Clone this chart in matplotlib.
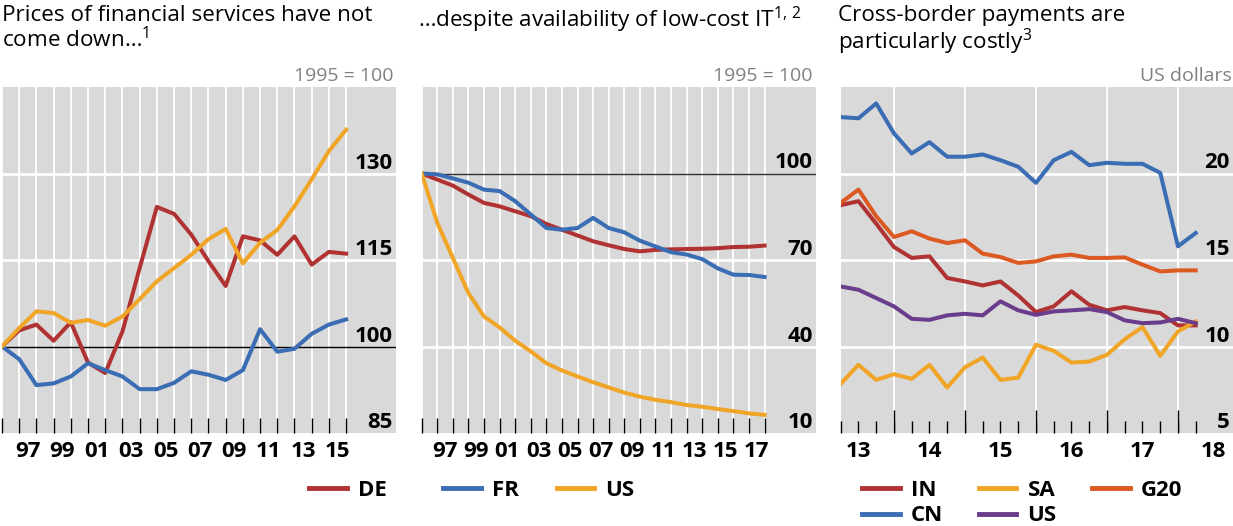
import numpy as np
import matplotlib
matplotlib.use("Agg")
import matplotlib.pyplot as plt
from matplotlib import transforms

plt.rcParams["font.family"] = ["Open Sans", "DejaVu Sans"]
plt.rcParams["mathtext.fontset"] = "custom"
plt.rcParams["mathtext.rm"] = "Open Sans"

# Panel 1: prices of financial services, 1995 = 100
years1 = list(range(1995, 2016))
de1 = [100, 102.8, 103.8, 101.0, 104.2, 97.2, 95.4, 102.6, 113.6, 124.2, 123.0,
       119.4, 114.8, 110.5, 119.1, 118.4, 115.9, 119.1, 114.2, 116.4, 116.1]
fr1 = [100, 97.8, 93.3, 93.6, 94.8, 97.1, 95.9, 94.8, 92.6, 92.6, 93.7,
       95.7, 95.1, 94.2, 95.9, 103.0, 99.1, 99.6, 102.2, 103.8, 104.7]
us1 = [100, 103.2, 106.1, 105.8, 104.1, 104.6, 103.6, 105.2, 108.2, 111.3, 113.6,
       115.9, 118.6, 120.4, 114.4, 118.0, 120.2, 124.3, 129.0, 133.9, 137.6]
labels1 = ["97", "99", "01", "03", "05", "07", "09", "11", "13", "15"]

# Panel 2: price of IT, 1995 = 100
years2 = list(range(1995, 2018))
de2 = [100, 97.9, 95.8, 92.7, 89.8, 88.6, 86.9, 85.2, 82.5, 80.5, 78.5, 76.5,
       75.1, 73.8, 73.0, 73.5, 73.7, 73.8, 73.9, 74.1, 74.5, 74.6, 75.0]
fr2 = [100, 99.7, 98.3, 96.8, 94.4, 93.9, 90.4, 85.8, 81.1, 80.5, 81.1, 84.6,
       81.1, 79.6, 76.7, 74.7, 72.7, 71.9, 70.3, 67.1, 64.9, 64.8, 64.1]
us2 = [100, 82.9, 70.7, 58.5, 50.4, 46.6, 42.0, 38.3, 34.2, 31.7, 29.6, 27.6,
       25.8, 24.0, 22.6, 21.5, 20.7, 19.7, 19.1, 18.3, 17.6, 16.8, 16.3]
labels2 = ["97", "99", "01", "03", "05", "07", "09", "11", "13", "15", "17"]

# Panel 3: cost of cross-border payments, US dollars (quarterly)
in3 = [18.17, 18.40, 17.10, 15.75, 15.12, 15.21, 13.96, 13.76, 13.53, 13.76, 12.95,
       11.99, 12.32, 13.19, 12.41, 12.09, 12.28, 12.09, 11.93, 11.22, 11.22]
sa3 = [7.84, 8.94, 8.07, 8.40, 8.13, 8.94, 7.63, 8.80, 9.36, 8.07, 8.20,
       10.10, 9.75, 9.07, 9.13, 9.52, 10.42, 11.12, 9.46, 10.87, 11.45]
g20 = [18.30, 19.07, 17.53, 16.33, 16.66, 16.24, 15.98, 16.14, 15.37, 15.17, 14.83,
       14.92, 15.21, 15.31, 15.12, 15.12, 15.15, 14.73, 14.34, 14.40, 14.40]
cn3 = [23.26, 23.19, 24.05, 22.32, 21.16, 21.81, 20.97, 20.97, 21.10, 20.77, 20.39,
       19.46, 20.77, 21.25, 20.48, 20.62, 20.56, 20.56, 20.04, 15.79, 16.56]
us3 = [13.47, 13.28, 12.80, 12.32, 11.60, 11.54, 11.80, 11.89, 11.80, 12.61, 12.09,
       11.83, 12.03, 12.09, 12.16, 11.99, 11.51, 11.35, 11.39, 11.60, 11.35]
labels3 = ["13", "14", "15", "16", "17", "18"]

RED = "#b03232"
BLUE = "#3a6db3"
YELLOW = "#f0a526"
ORANGE = "#dc5a22"
PURPLE = "#6a3c8c"
BG = "#d9d9d9"
LW = 2.9

W, H = 1233, 526
fig = plt.figure(figsize=(W / 100, H / 100), dpi=100)


def px_axes(left, right, top=87, bottom=433):
    return fig.add_axes([left / W, 1 - bottom / H, (right - left) / W, (bottom - top) / H])


def inside_labels(ax, values):
    # value labels sit inside the plot, right-aligned, just above the gridline
    trans = transforms.blended_transform_factory(ax.transAxes, ax.transData)
    trans = transforms.offset_copy(trans, fig=fig, x=-3, y=5, units="dots")
    for v in values:
        ax.text(1, v, str(v), transform=trans, ha="right", va="baseline",
                fontsize=16, fontweight="bold")


def style(ax, hgrid):
    ax.set_facecolor(BG)
    for s in ax.spines.values():
        s.set_visible(False)
    ax.set_yticks(hgrid)
    ax.tick_params(axis="y", length=0, labelleft=False)
    ax.grid(axis="y", which="major", color="white", lw=2)
    ax.set_axisbelow(True)


def year_axis(ax, years, labels, xmax):
    ax.set_xlim(years[0], xmax)
    ax.set_xticks(years, minor=True)
    pos = [years[0] + 1.5 + 2 * k for k in range(len(labels))]
    ax.set_xticks(pos)
    ax.set_xticklabels(labels, fontsize=16, fontweight="bold")
    ax.tick_params(axis="x", which="major", length=0, pad=6)
    ax.tick_params(axis="x", which="minor", direction="in", length=11, width=1, color="black")
    ax.grid(axis="x", which="minor", color="white", lw=1.3)


# ---- panel 1
ax1 = px_axes(2, 396)
style(ax1, [115, 130])
ax1.set_ylim(85, 145)
year_axis(ax1, years1, labels1, 1995 + 22.9)
ax1.axhline(100, color="black", lw=1, zorder=2)
l_de, = ax1.plot(years1, de1, color=RED, lw=LW, zorder=3, label="DE")
ax1.plot(years1, fr1, color=BLUE, lw=LW, zorder=3)
ax1.plot(years1, us1, color=YELLOW, lw=LW, zorder=3)
inside_labels(ax1, [85, 100, 115, 130])

# ---- panel 2
ax2 = px_axes(421.7, 816)
style(ax2, [40, 70])
ax2.set_ylim(10, 130)
year_axis(ax2, years2, labels2, 1995 + 25.3)
ax2.axhline(100, color="#333333", lw=1, zorder=2)
ax2.plot(years2, de2, color=RED, lw=LW, zorder=3)
l_fr, = ax2.plot(years2, fr2, color=BLUE, lw=LW, zorder=3, label="FR")
l_us, = ax2.plot(years2, us2, color=YELLOW, lw=LW, zorder=3, label="US")
inside_labels(ax2, [10, 40, 70, 100])

# ---- panel 3
ax3 = px_axes(840.7, 1233)
style(ax3, [10, 15, 20])
ax3.set_ylim(5, 25)
q = np.arange(len(cn3))
ax3.set_xlim(0, 22.1)
ax3.xaxis.remove_overlapping_locs = False
ax3.set_xticks(q, minor=True)
ax3.set_xticks([1, 5, 9, 13, 17, 21])
ax3.set_xticklabels(labels3, fontsize=16, fontweight="bold")
ax3.tick_params(axis="x", which="major", length=0, pad=6)
ax3.tick_params(axis="x", which="minor", direction="in", length=8.5, width=1, color="black")
year_bounds = [3, 7, 11, 15, 19]
ax3.vlines(year_bounds, 0, 1, transform=ax3.get_xaxis_transform(), color="white", lw=1.3, zorder=1)
ax3.vlines(year_bounds, 0, 23 / 346, transform=ax3.get_xaxis_transform(), color="black", lw=1, zorder=2)
l_in, = ax3.plot(q, in3, color=RED, lw=LW, zorder=3, label="IN")
l_sa, = ax3.plot(q, sa3, color=YELLOW, lw=LW, zorder=3, label="SA")
l_g20, = ax3.plot(q, g20, color=ORANGE, lw=LW, zorder=3, label="G20")
l_cn, = ax3.plot(q, cn3, color=BLUE, lw=LW, zorder=3, label="CN")
l_us3, = ax3.plot(q, us3, color=PURPLE, lw=LW, zorder=3, label="US")
inside_labels(ax3, [5, 10, 15, 20])

# ---- titles and units
tkw = dict(fontsize=16.2, va="top", ha="left", linespacing=1.05)
fig.text(2 / W, 1 - 5 / H, "Prices of financial services have not\ncome down…$^{\\mathrm{1}}$", **tkw)
fig.text(418 / W, 1 - 5 / H, "…despite availability of low-cost IT$^{\\mathrm{1,\\,2}}$", **tkw)
fig.text(838 / W, 1 - 5 / H, "Cross-border payments are\nparticularly costly$^{\\mathrm{3}}$", **tkw)
ukw = dict(fontsize=14, color="#808080", ha="right", va="baseline")
fig.text(393 / W, 1 - 81 / H, "1995 = 100", **ukw)
fig.text(812 / W, 1 - 81 / H, "1995 = 100", **ukw)
fig.text(1232 / W, 1 - 81 / H, "US dollars", **ukw)

# ---- legends
lkw = dict(frameon=False, loc="upper left", prop={"size": 16, "weight": "bold"},
           handlelength=1.7, handletextpad=0.5, borderpad=0, borderaxespad=0)
leg1 = fig.legend(handles=[l_de], bbox_to_anchor=(309 / W, 1 - 480 / H), **lkw)
leg2 = fig.legend(handles=[l_fr, l_us], ncol=2, columnspacing=1.7,
                  bbox_to_anchor=(443 / W, 1 - 480 / H), **lkw)
leg3 = fig.legend(handles=[l_in, l_cn, l_sa, l_us3, l_g20], ncol=3, columnspacing=1.6,
                  labelspacing=0.2, bbox_to_anchor=(862 / W, 1 - 480 / H), **lkw)
for leg in (leg1, leg2, leg3):
    for line in leg.get_lines():
        line.set_linewidth(3.5)

fig.savefig("out.png", dpi=100)
